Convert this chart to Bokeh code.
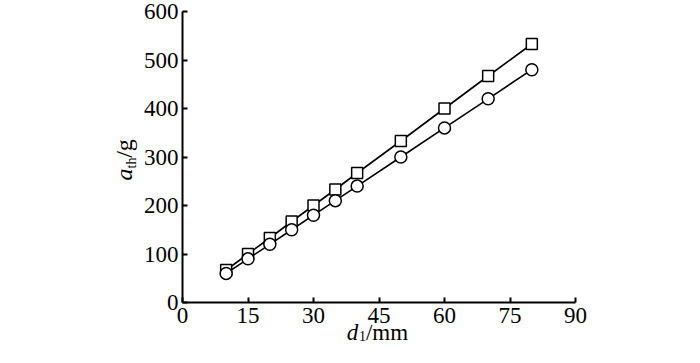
from bokeh.plotting import figure
from bokeh.models import Range1d, FixedTicker, LinearAxis
from bokeh.embed import file_html
from bokeh.resources import INLINE

# Data
d1 = [10, 15, 20, 25, 30, 35, 40, 50, 60, 70, 80]
a_square = [67, 100, 133, 167, 200, 233, 267, 333, 400, 467, 533]
a_circle = [60, 90, 120, 150, 180, 210, 240, 300, 360, 420, 480]
x_ticks = [0, 15, 30, 45, 60, 75, 90]
y_ticks = [0, 100, 200, 300, 400, 500, 600]

FONT = "Liberation Serif"

W, H = 684, 347
# pixel placement of the data frame (figure coords)
X0_PX, X90_PX = 182, 575
Y0_PX, Y600_PX = 302, 11
sx = (X90_PX - X0_PX) / 90.0
sy = (Y0_PX - Y600_PX) / 600.0

def xdata(px):
    return (px - X0_PX) / sx

def ydata(px):
    return (Y0_PX - px) / sy

p = figure(width=W, height=H, output_backend="svg", toolbar_location=None,
           x_range=Range1d(-X0_PX / sx, (W - X0_PX) / sx),
           y_range=Range1d(-(H - Y0_PX) / sy, Y0_PX / sy),
           min_border=0)
p.outline_line_color = None
p.xgrid.visible = False
p.ygrid.visible = False
p.background_fill_color = "white"
p.border_fill_color = "white"

for ax in (p.xaxis[0], p.yaxis[0]):
    ax.fixed_location = 0
    ax.axis_line_width = 2
    ax.axis_line_color = "black"
    ax.major_tick_in = 5
    ax.major_tick_out = 0
    ax.major_tick_line_width = 2
    ax.minor_tick_line_color = None
    ax.major_label_text_font = FONT
    ax.major_label_text_font_size = "23px"
    ax.major_label_text_color = "black"

p.xaxis.bounds = (0, 90)
p.yaxis.bounds = (0, 600)
p.xaxis.ticker = FixedTicker(ticks=x_ticks)
p.yaxis.ticker = FixedTicker(ticks=y_ticks)
p.xaxis.major_label_standoff = 5
p.yaxis.major_label_standoff = 4

p.line(d1, a_square, line_color="black", line_width=1.6)
p.scatter(d1, a_square, marker="square", size=11, line_color="black",
          line_width=1.5, fill_color="white")
p.line(d1, a_circle, line_color="black", line_width=1.6)
p.scatter(d1, a_circle, marker="circle", size=12, line_color="black",
          line_width=1.5, fill_color="white")

# composed axis titles, built from label-only axes
def label_axis(side, text, center, size, style, standoff):
    ax = LinearAxis(fixed_location=0, bounds=(center - 0.2, center + 0.2),
                    ticker=FixedTicker(ticks=[]),
                    axis_line_color=None, major_tick_line_color=None,
                    major_tick_out=0, major_tick_in=0,
                    minor_tick_line_color=None, major_label_text_font_size="0px",
                    axis_label=text, axis_label_text_font=FONT,
                    axis_label_text_font_style=style,
                    axis_label_text_font_size=size,
                    axis_label_text_color="black",
                    axis_label_standoff=standoff)
    p.add_layout(ax, side)

# x title: d_1/mm
label_axis("below", "d", xdata(352), "23px", "italic", 17)
label_axis("below", "1", xdata(362), "14px", "normal", 28)
label_axis("below", "/mm", xdata(386.5), "23px", "normal", 17)

# y title: a_th/g
label_axis("left", "a", ydata(174), "24px", "italic", 46)
label_axis("left", "th", ydata(162.5), "14px", "normal", 44)
label_axis("left", "/g", ydata(148), "24px", "normal", 46)

open("out.html", "w").write(file_html(p, INLINE))
